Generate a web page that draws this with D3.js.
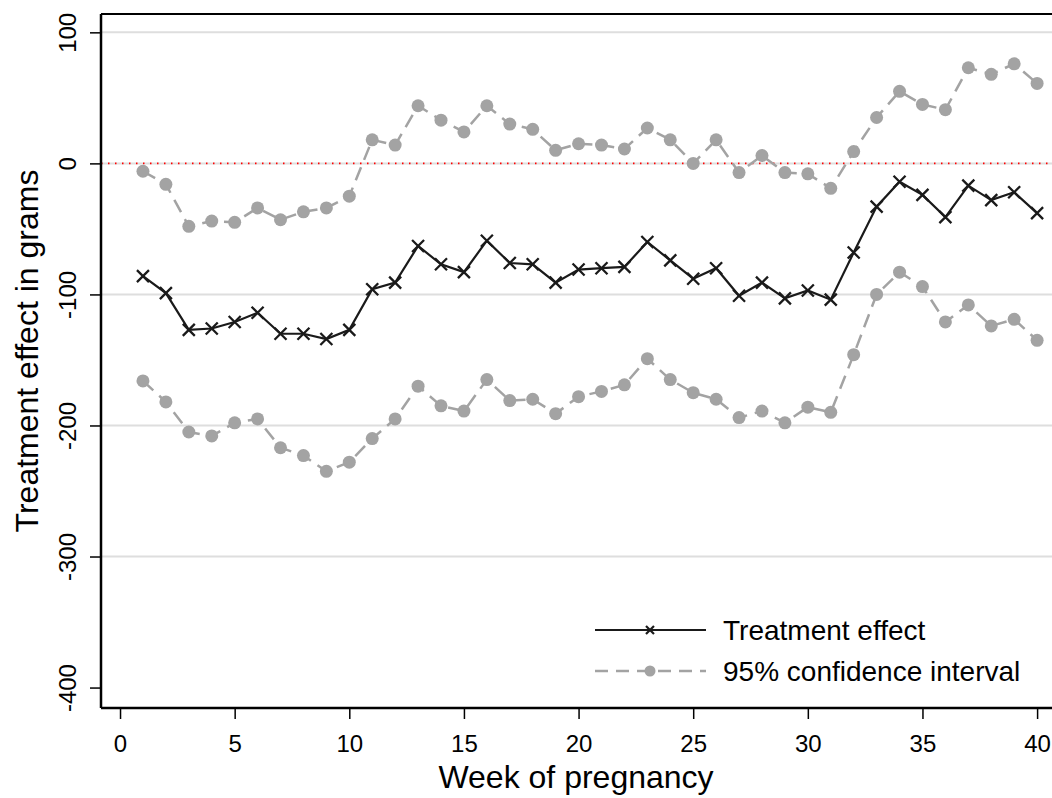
<!DOCTYPE html>
<html>
<head>
<meta charset="UTF-8">
<title>Treatment effect</title>
<script src="https://cdn.jsdelivr.net/npm/d3@7/dist/d3.min.js"></script>
<style type="text/css">
body { margin: 0; background: #fff; }
svg { display: block; font-family: "Liberation Sans", Arial, sans-serif; }
</style>
</head>
<body>
<div class="chart"></div>
<script>
// weeks 1..40
var weeks = d3.range(1, 41);

var effect = [-86, -99, -127, -126, -121, -114, -130, -130, -134, -127,
	-96, -91, -63, -77, -83, -59, -76, -77, -91, -81,
	-80, -79, -60, -74, -88, -80, -101, -91, -103, -97,
	-104, -68, -33, -14, -24, -41, -17, -28, -22, -38];

var upper = [-6, -16, -48, -44, -45, -34, -43, -37, -34, -25,
	18, 14, 44, 33, 24, 44, 30, 26, 10, 15,
	14, 11, 27, 18, 0, 18, -7, 6, -7, -8,
	-19, 9, 35, 55, 45, 41, 73, 68, 76, 61];

var lower = [-166, -182, -205, -208, -198, -195, -217, -223, -235, -228,
	-210, -195, -170, -185, -189, -165, -181, -180, -191, -178,
	-174, -169, -149, -165, -175, -180, -194, -189, -198, -186,
	-190, -146, -100, -83, -94, -121, -108, -124, -119, -135];

var xTicks = [0, 5, 10, 15, 20, 25, 30, 35, 40];
var yTicks = [100, 0, -100, -200, -300, -400];
var gridTicks = [100, 0, -100, -200, -300];

var W = 1052, H = 798;
var pLeft = 101, pTop = 14, pRight = 1052, pBottom = 708;

var svg = d3.select(".chart").append("svg")
	.attr("width", W)
	.attr("height", H);

var x = d3.scaleLinear().domain([-0.83, 40.65]).range([pLeft, pRight]);
var y = d3.scaleLinear().domain([114, -415.6]).range([pTop, pBottom]);

// gridlines
svg.append("g").selectAll("line")
	.data(gridTicks)
	.enter().append("line")
	.attr("x1", pLeft).attr("x2", pRight)
	.attr("y1", function(d){ return y(d); })
	.attr("y2", function(d){ return y(d); })
	.attr("stroke", "#dedede")
	.attr("stroke-width", 2);

// zero reference
svg.append("line")
	.attr("x1", pLeft).attr("x2", pRight)
	.attr("y1", y(0)).attr("y2", y(0))
	.attr("stroke", "#ff0000")
	.attr("stroke-width", 1.6)
	.attr("stroke-dasharray", "1.5,5.5");

// top frame
svg.append("line")
	.attr("x1", pLeft).attr("x2", pRight)
	.attr("y1", pTop).attr("y2", pTop)
	.attr("stroke", "#000").attr("stroke-width", 2);

// axes (plain hyphen for negatives, like the original)
var yAxis = d3.axisLeft(y).tickValues(yTicks).tickSize(11).tickPadding(0)
	.tickFormat(function(d){ return String(d); });
var xAxis = d3.axisBottom(x).tickValues(xTicks).tickSize(11).tickPadding(0);

var gy = svg.append("g").attr("transform", "translate(" + pLeft + ",0)").call(yAxis);
gy.select(".domain").attr("d", "M0," + pTop + "V" + pBottom).attr("stroke-width", 2.5);
gy.selectAll(".tick line").attr("stroke-width", 1.5);
gy.selectAll(".tick text")
	.attr("font-size", 24)
	.attr("fill", "#000")
	.attr("text-anchor", "middle")
	.attr("dy", 0)
	.attr("x", 0)
	.attr("transform", "translate(-25,0) rotate(-90)");

var gx = svg.append("g").attr("transform", "translate(0," + pBottom + ")").call(xAxis);
gx.select(".domain").attr("d", "M" + pLeft + ",0H" + pRight).attr("stroke-width", 2.5);
gx.selectAll(".tick line").attr("stroke-width", 1.5);
gx.selectAll(".tick text")
	.attr("font-size", 24)
	.attr("fill", "#000")
	.attr("y", 44)
	.attr("dy", 0);

// axis titles
svg.append("text")
	.attr("transform", "translate(38,351) rotate(-90)")
	.attr("text-anchor", "middle")
	.attr("font-size", 32)
	.text("Treatment effect in grams");

svg.append("text")
	.attr("x", 576)
	.attr("y", 788)
	.attr("text-anchor", "middle")
	.attr("font-size", 32)
	.text("Week of pregnancy");

var line = d3.line()
	.x(function(d, i){ return x(weeks[i]); })
	.y(function(d){ return y(d); });

var grey = "#a3a3a3";

// confidence bands
[upper, lower].forEach(function(series){
	svg.append("path")
		.attr("d", line(series))
		.attr("fill", "none")
		.attr("stroke", grey)
		.attr("stroke-width", 2.5)
		.attr("stroke-dasharray", "14,8");
	svg.append("g").selectAll("circle")
		.data(series)
		.enter().append("circle")
		.attr("cx", function(d, i){ return x(weeks[i]); })
		.attr("cy", function(d){ return y(d); })
		.attr("r", 6.5)
		.attr("fill", grey);
});

// treatment effect
svg.append("path")
	.attr("d", line(effect))
	.attr("fill", "none")
	.attr("stroke", "#1a1a1a")
	.attr("stroke-width", 2.2);

var cross = function(cx, cy, s){
	return "M" + (cx - s) + "," + (cy - s) + "L" + (cx + s) + "," + (cy + s) +
		"M" + (cx - s) + "," + (cy + s) + "L" + (cx + s) + "," + (cy - s);
};

svg.append("g").selectAll("path")
	.data(effect)
	.enter().append("path")
	.attr("d", function(d, i){ return cross(x(weeks[i]), y(d), 6); })
	.attr("stroke", "#1a1a1a")
	.attr("stroke-width", 2.3);

// legend
var lg = svg.append("g");
lg.append("line")
	.attr("x1", 595).attr("x2", 706).attr("y1", 630).attr("y2", 630)
	.attr("stroke", "#1a1a1a").attr("stroke-width", 2.2);
lg.append("path")
	.attr("d", cross(650, 630, 4))
	.attr("stroke", "#1a1a1a").attr("stroke-width", 2.2);
lg.append("text")
	.attr("x", 723).attr("y", 640)
	.attr("font-size", 28)
	.text("Treatment effect");

lg.append("line")
	.attr("x1", 595).attr("x2", 706).attr("y1", 671).attr("y2", 671)
	.attr("stroke", grey).attr("stroke-width", 2.5)
	.attr("stroke-dasharray", "13,8");
lg.append("circle")
	.attr("cx", 650).attr("cy", 671).attr("r", 5.5)
	.attr("fill", grey);
lg.append("text")
	.attr("x", 723).attr("y", 681)
	.attr("font-size", 28)
	.text("95% confidence interval");
</script>
</body>
</html>
